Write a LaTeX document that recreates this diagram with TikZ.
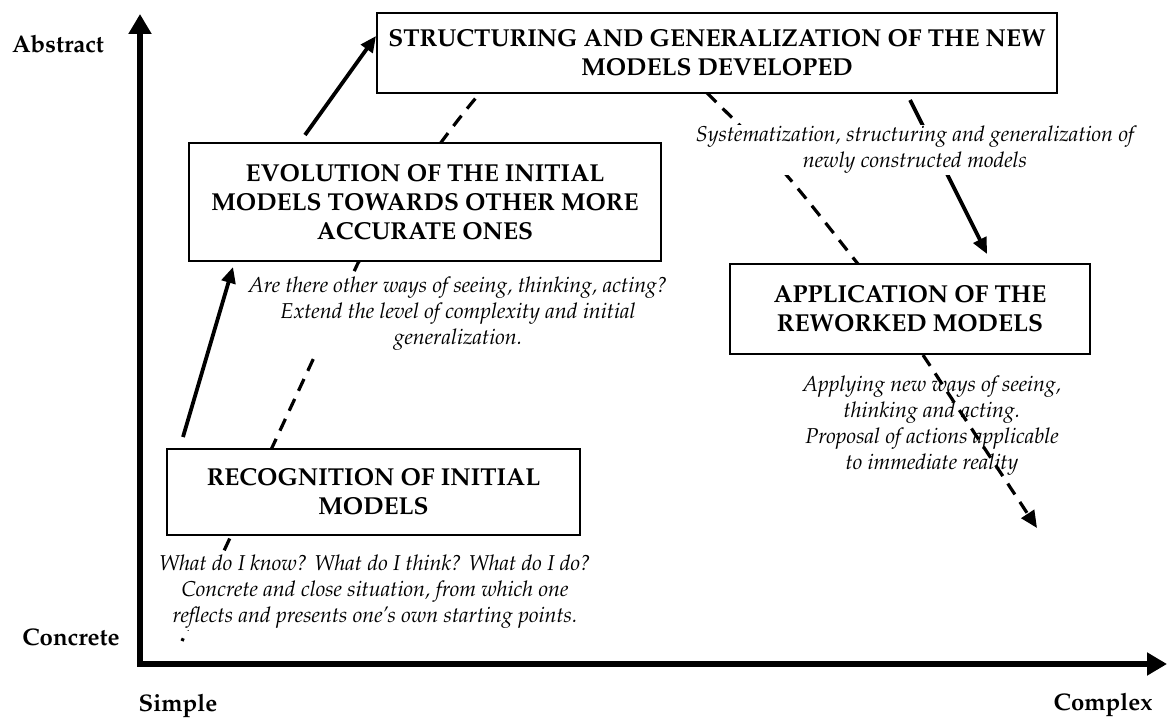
\documentclass[tikz,border=0pt]{standalone}
\usepackage[T1]{fontenc}
\usepackage{mathpazo}
\usetikzlibrary{arrows.meta,calc}
\tikzset{
  stage/.style={draw, line width=1.3bp, fill=white, align=center, inner sep=0pt,
    font=\bfseries\fontsize{24.5bp}{29bp}\selectfont},
  note/.style={align=center, fill=white, inner sep=1bp,
    font=\itshape\fontsize{21.5bp}{26bp}\selectfont},
  axislabel/.style={font=\bfseries\fontsize{24bp}{28bp}\selectfont},
  axis/.style={line width=5.5bp, -{Triangle[length=20bp,width=22bp]}},
  flow/.style={line width=3.8bp, -{Triangle[length=16bp,width=14bp]}},
  dashline/.style={line width=3.2bp, dash pattern=on 13bp off 9bp},
  dasharrow/.style={dashline, -{Triangle[length=17bp,width=15bp]}}
}
\begin{document}
\begin{tikzpicture}[x=1bp,y=-1bp]
\useasboundingbox (0,0) rectangle (1167,720);

% axes
\coordinate (o) at (140,664);
\coordinate (ytop) at (140,14);
\coordinate (xend) at (1167,664);
\draw[axis] ($(o)+(0,2.75)$) -- (ytop);
\draw[axis] ($(o)+(-2.75,0)$) -- (xend);

\node[axislabel] (abs) at (58,44) {Abstract};
\node[axislabel] (con) at (71,637) {Concrete};
\node[axislabel] (sim) at (178,706) {Simple};
\node[axislabel] (cpx) at (1103,705) {Complex};

% dashed background paths
\coordinate (d0) at (182,641);
\coordinate (d1) at (358,263);
\coordinate (d2) at (480,93);
\draw[dashline, dash phase=10bp] (d0) -- (d1) .. controls (400,200) and (440,140) .. (d2);
\coordinate (r0) at (707,93);
\coordinate (r1) at (858,264);
\draw[dashline] (r0) .. controls (780,165) .. (r1);

% solid arrows
\coordinate (a1s) at (183,437);
\coordinate (a1e) at (233,267);
\coordinate (a2s) at (305,135);
\coordinate (a2e) at (376,36);
\coordinate (a3s) at (910,100);
\coordinate (a3e) at (987,254);
\draw[flow] (a1s) -- (a1e);
\draw[flow] (a2s) -- (a2e);
\draw[flow] (a3s) -- (a3e);

% boxes
\node[stage, minimum width=680bp, minimum height=80bp] (s) at (717,53)
  {STRUCTURING AND GENERALIZATION OF THE NEW\\MODELS DEVELOPED};
\node[stage, minimum width=472bp, minimum height=118bp] (e) at (425,202)
  {EVOLUTION OF THE INITIAL\\MODELS TOWARDS OTHER MORE\\ACCURATE ONES};
\node[stage, minimum width=360bp, minimum height=90bp] (a) at (910,309)
  {APPLICATION OF THE\\REWORKED MODELS};
\node[stage, minimum width=413bp, minimum height=86bp] (r) at (373.5,492)
  {RECOGNITION OF INITIAL\\MODELS};

% notes
\node[note] (ns) at (915,150)
  {Systematization, structuring and generalization of\\newly constructed models};
\node[note] (ne) at (458,314)
  {Are there other ways of seeing, thinking, acting?\\Extend the level of complexity and initial\\generalization.};
\node[note] (nr) at (375,592)
  {What do I know? What do I think? What do I do?\\Concrete and close situation, from which one\\reflects and presents one's own starting points.};
\node[note, fill=none] (na) at (932,426)
  {Applying new ways of seeing,\\thinking and acting.\\Proposal of actions applicable\\to immediate reality};

% dashed arrow over application note
\coordinate (q0) at (923,355);
\coordinate (q1) at (1037,528);
\draw[dasharrow] (q0) -- (q1);
\end{tikzpicture}
\end{document}
